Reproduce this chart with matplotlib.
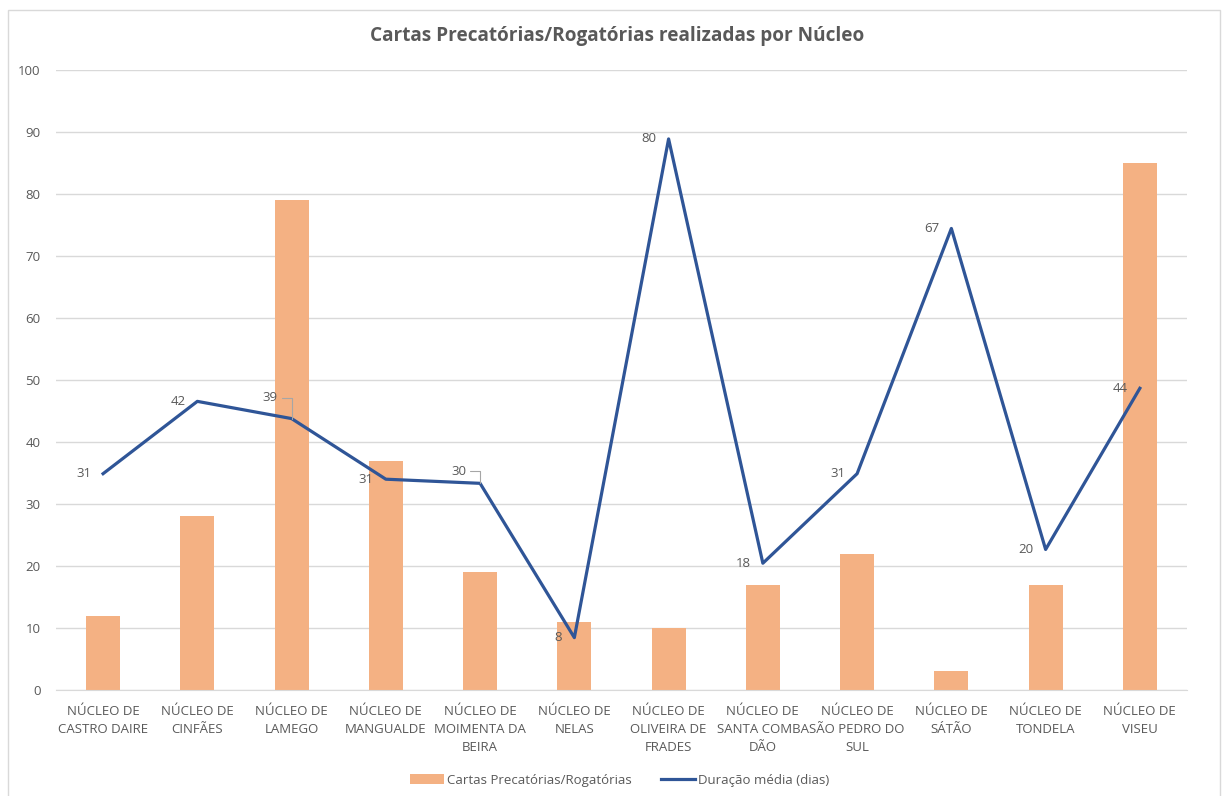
import matplotlib.pyplot as plt
import matplotlib.patches as mpatches
import numpy as np

# ── data ─────────────────────────────────────────────────────────────────────
NUCLEOS = [
    "NÚCLEO DE\nCASTRO DAIRE", "NÚCLEO DE\nCINFÃES", "NÚCLEO DE\nLAMEGO",
    "NÚCLEO DE\nMANGUALDE", "NÚCLEO DE\nMOIMENTA DA\nBEIRA", "NÚCLEO DE\nNELAS",
    "NÚCLEO DE\nOLIVEIRA DE\nFRADES", "NÚCLEO DE\nSANTA COMBA\nDÃO",
    "NÚCLEO DE\nSÃO PEDRO DO\nSUL", "NÚCLEO DE\nSÁTÃO", "NÚCLEO DE\nTONDELA",
    "NÚCLEO DE\nVISEU",
]
CARTAS = [12, 28, 79, 37, 19, 11, 10, 17, 22, 3, 17, 85]
DURACAO = [31.4, 41.9, 39.4, 30.6, 30.0, 7.6, 80.0, 18.4, 31.4, 67.0, 20.4, 43.8]

# ── style ────────────────────────────────────────────────────────────────────
BAR_COLOR  = "#F4B183"
LINE_COLOR = "#2F5597"
GRID_COLOR = "#D9D9D9"
TEXT_COLOR = "#595959"
plt.rcParams["font.family"] = ["Open Sans", "DejaVu Sans"]

fig = plt.figure(figsize=(12.27, 7.96), dpi=100)
ax = fig.add_axes([0.0456, 0.1332, 0.9218, 0.7788])
ax2 = ax.twinx()   # duration on a hidden 0-90 scale

x = np.arange(len(NUCLEOS))
ax.bar(x, CARTAS, width=0.36, color=BAR_COLOR, zorder=2,
       label="Cartas Precatórias/Rogatórias")
ax2.plot(x, DURACAO, color=LINE_COLOR, linewidth=2.3, zorder=3,
         label="Duração média (dias)")

ax.set_xlim(-0.5, len(NUCLEOS) - 0.5)
ax.set_ylim(0, 100)
ax2.set_ylim(0, 90)
ax.set_yticks(range(0, 101, 10))
ax.grid(axis="y", color=GRID_COLOR, linewidth=1, zorder=0)
ax.set_axisbelow(True)
for a in (ax, ax2):
    for s in a.spines.values():
        s.set_visible(False)
ax.spines["bottom"].set_visible(True)
ax.spines["bottom"].set_color(GRID_COLOR)
ax2.set_yticks([])
ax.tick_params(axis="both", length=0, colors=TEXT_COLOR, labelsize=9.5)
ax.tick_params(axis="y", pad=11)
ax.tick_params(axis="x", pad=11)
ax.set_xticks(x)
ax.set_xticklabels(NUCLEOS, linespacing=1.5)

# data labels to the left of each point; two with leader lines
offsets = {2: (-14, 21), 4: (-14, 12)}
for i, v in enumerate(DURACAO):
    dx, dy = offsets.get(i, (-12, 0))
    kw = {}
    if i in offsets:
        kw["arrowprops"] = dict(arrowstyle="-", color="#A6A6A6", lw=0.8,
                                shrinkA=1, shrinkB=0,
                                connectionstyle="angle,angleA=0,angleB=90,rad=0")
    ax2.annotate(f"{v:.0f}", xy=(i, v), xytext=(dx, dy),
                 textcoords="offset pixels",
                 ha="right", va="center", fontsize=9.5, color=TEXT_COLOR,
                 zorder=4, **kw)

fig.suptitle("Cartas Precatórias/Rogatórias realizadas por Núcleo",
             x=0.503, y=0.967, fontsize=13.7, fontweight="bold", color=TEXT_COLOR)

h1, l1 = ax.get_legend_handles_labels()
h2, l2 = ax2.get_legend_handles_labels()
leg = fig.legend(h1 + h2, l1 + l2, loc="center", bbox_to_anchor=(0.505, 0.02),
                 ncol=2, frameon=False, fontsize=9.5, handlelength=2.6,
                 handletextpad=0.2, columnspacing=2.2)
for t in leg.get_texts():
    t.set_color(TEXT_COLOR)

# chart border
fig.patches.append(mpatches.Rectangle((0.0065, -0.01), 0.988, 0.998,
                                      transform=fig.transFigure, fill=False,
                                      edgecolor=GRID_COLOR, linewidth=1))

fig.savefig("out.png", dpi=100)
